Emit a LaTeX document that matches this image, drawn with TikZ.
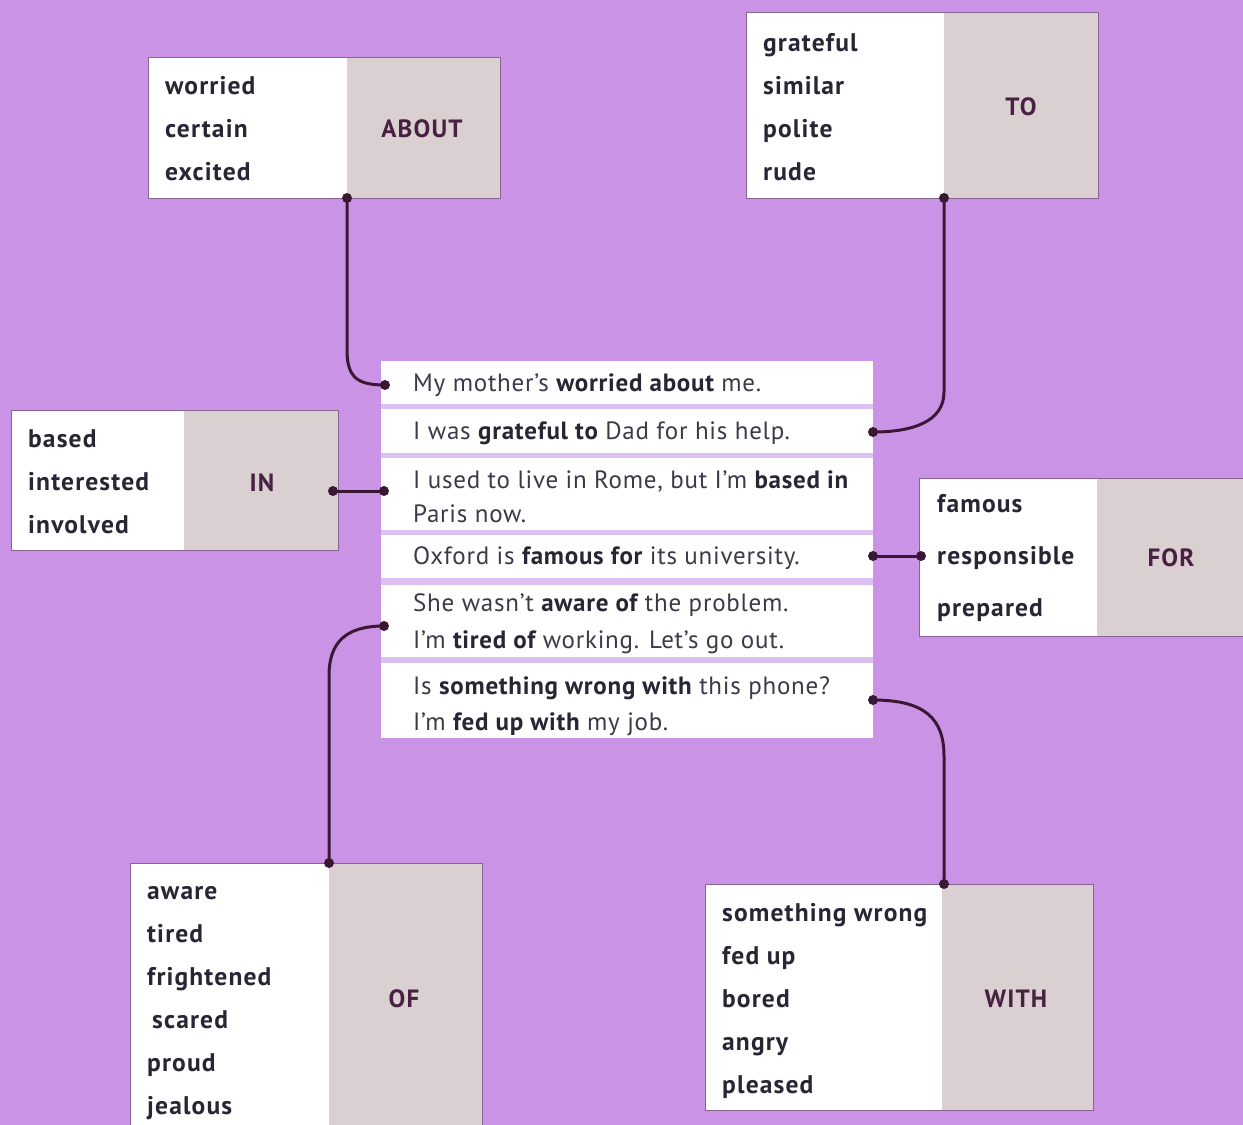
\documentclass[tikz,border=0pt]{standalone}
\usepackage{fontspec}
\setmainfont{PT Sans}[LetterSpace=3]
\newfontfamily\wordsfont{PT Sans}[LetterSpace=4.5]
\usetikzlibrary{calc}
\definecolor{bgc}{RGB}{203,147,230}
\definecolor{gapc}{RGB}{220,192,242}
\definecolor{grayc}{RGB}{218,208,210}
\definecolor{edgec}{RGB}{135,100,145}
\definecolor{txt}{RGB}{38,38,52}
\definecolor{stxt}{RGB}{58,58,72}
\definecolor{prep}{RGB}{72,32,66}
\definecolor{wirec}{RGB}{58,24,52}
\tikzset{
  whitepart/.style={fill=white, draw=none, inner sep=0, anchor=north west},
  graypart/.style={fill=grayc, draw=none, inner sep=0, anchor=north west},
  frame/.style={draw=edgec, line width=1.2pt, fill=none, inner sep=0, anchor=north west},
  words/.style={font=\wordsfont\fontsize{25.5}{43}\selectfont\bfseries, text=txt, align=left, anchor=west, inner sep=0},
  prepo/.style={font=\wordsfont\fontsize{25}{28}\selectfont\bfseries, text=prep, inner sep=0},
  row/.style={fill=white, draw=none, inner sep=0, anchor=north west, minimum width=492pt},
  sent/.style={font=\fontsize{25}{36}\selectfont, text=stxt, align=left, anchor=west, inner sep=0},
  wire/.style={draw=wirec, line width=3pt},
  dot/.style={circle, fill=wirec, inner sep=0, minimum size=10pt},
}
\newcommand{\bw}[1]{{\bfseries\color{txt}#1}}
\begin{document}
\begin{tikzpicture}[x=1pt,y=-1pt]
\fill[bgc] (0,0) rectangle (1243,1125);
\useasboundingbox (0,0) rectangle (1243,1125);

% ABOUT
\node[whitepart, minimum width=199pt, minimum height=141pt] (aboutW) at (148,57) {};
\node[graypart, minimum width=153pt, minimum height=141pt] (aboutG) at (347,57) {};
\node[frame, minimum width=352pt, minimum height=141pt] (about) at (148,57) {};
\node[words] (aboutT) at (165,129) {worried\\certain\\excited};
\node[prepo] (aboutP) at (422,129) {ABOUT};

% TO
\node[whitepart, minimum width=198pt, minimum height=186pt] (toW) at (746,12) {};
\node[graypart, minimum width=154pt, minimum height=186pt] (toG) at (944,12) {};
\node[frame, minimum width=352pt, minimum height=186pt] (to) at (746,12) {};
\node[words] (toT) at (763,107) {grateful\\similar\\polite\\rude};
\node[prepo] (toP) at (1021,107) {TO};

% IN
\node[whitepart, minimum width=173pt, minimum height=140pt] (inW) at (11,410) {};
\node[graypart, minimum width=154pt, minimum height=140pt] (inG) at (184,410) {};
\node[frame, minimum width=327pt, minimum height=140pt] (in) at (11,410) {};
\node[words] (inT) at (28,482) {based\\interested\\involved};
\node[prepo] (inP) at (262,483) {IN};

% FOR
\node[whitepart, minimum width=178pt, minimum height=158pt] (forW) at (919,478) {};
\node[graypart, minimum width=147pt, minimum height=158pt] (forG) at (1097,478) {};
\node[frame, minimum width=330pt, minimum height=158pt] (for) at (919,478) {};
\node[words, font=\wordsfont\fontsize{25.5}{52}\selectfont\bfseries] (forT) at (937,558) {famous\\responsible\\prepared};
\node[prepo] (forP) at (1171,558) {FOR};

% OF
\node[whitepart, minimum width=199pt, minimum height=270pt] (ofW) at (130,863) {};
\node[graypart, minimum width=153pt, minimum height=270pt] (ofG) at (329,863) {};
\node[frame, minimum width=352pt, minimum height=270pt] (of) at (130,863) {};
\node[words] (ofT) at (147,1003) {aware\\tired\\frightened\\\hspace*{5pt}scared\\proud\\jealous};
\node[prepo] (ofP) at (404,999) {OF};

% WITH
\node[whitepart, minimum width=237pt, minimum height=226pt] (withW) at (705,884) {};
\node[graypart, minimum width=151pt, minimum height=226pt] (withG) at (942,884) {};
\node[frame, minimum width=388pt, minimum height=226pt] (with) at (705,884) {};
\node[words] (withT) at (722,1001) {something wrong\\fed up\\bored\\angry\\pleased};
\node[prepo] (withP) at (1016,999) {WITH};

% sentences
\fill[gapc] (381,361) rectangle (873,738);
\node[row, minimum height=43pt] (r1) at (381,361) {};
\node[row, minimum height=44pt] (r2) at (381,409) {};
\node[row, minimum height=72pt] (r3) at (381,458) {};
\node[row, minimum height=43pt] (r4) at (381,535) {};
\node[row, minimum height=72pt] (r5) at (381,585) {};
\node[row, minimum height=75pt] (r6) at (381,663) {};
\node[sent] (s1) at (413,385) {My mother’s \bw{worried about} me.};
\node[sent, font=\fontsize{25}{34}\selectfont] (s3) at (413,497) {I used to live in Rome, but I’m \bw{based in}\\Paris now.};
\node[sent] (s2) at (413,433) {I was \bw{grateful to} Dad for his help.};
\node[sent] (s4) at (413,558) {Oxford is \bw{famous for} its university.};
\node[sent, font=\fontsize{25}{37}\selectfont] (s5) at (413,624) {She wasn’t \bw{aware of} the problem.\\I’m \bw{tired of} working. Let’s go out.};
\node[sent] (s6) at (413,706) {Is \bw{something wrong with} this phone?\\I’m \bw{fed up with} my job.};

% dots
\node[dot] (dAbout) at (347,198) {};
\node[dot] (dS1) at (385,385) {};
\node[dot] (dTo) at (944,198) {};
\node[dot] (dS2) at (873,432) {};
\node[dot] (dIn) at (333,491) {};
\node[dot] (dS3) at (384,491) {};
\node[dot] (dS4) at (873,556) {};
\node[dot] (dFor) at (921,556) {};
\node[dot] (dS5) at (384,626) {};
\node[dot] (dOf) at (329,863) {};
\node[dot] (dS6) at (873,700) {};
\node[dot] (dWith) at (944,884) {};

% connectors
\draw[wire] (dAbout.center) -- (347,350) .. controls (347,378) and (358,385) .. (dS1.center);
\draw[wire] (dTo.center) -- (944,392) .. controls (944,422) and (912,432) .. (dS2.center);
\draw[wire] (dIn.center) -- (dS3.center);
\draw[wire] (dS4.center) -- (dFor.center);
\draw[wire] (dS5.center) .. controls (346,626) and (329,642) .. (329,676) -- (dOf.center);
\draw[wire] (dS6.center) .. controls (924,700) and (944,718) .. (944,756) -- (dWith.center);
\end{tikzpicture}
\end{document}
